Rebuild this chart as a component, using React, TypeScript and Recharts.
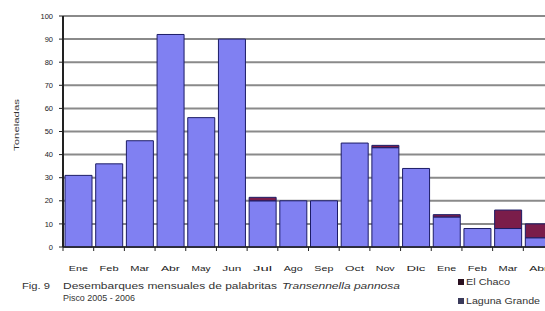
import React from "react";
import { BarChart, Bar, XAxis, YAxis, CartesianGrid } from "recharts";

const months = ["Ene", "Feb", "Mar", "Abr", "May", "Jun", "Jul", "Ago", "Sep", "Oct", "Nov", "Dic", "Ene", "Feb", "Mar", "Abr"];
const lagunaGrande = [31, 36, 46, 92, 56, 90, 20, 20, 20, 45, 43, 34, 13, 8, 8, 4];
const elChaco = [0, 0, 0, 0, 0, 0, 1.5, 0, 0, 0, 1, 0, 1, 0, 8, 6];
const yTicks = [0, 10, 20, 30, 40, 50, 60, 70, 80, 90, 100];

const data = months.map((m, i) => ({ mes: m, lg: lagunaGrande[i], ec: elChaco[i] }));

const CHART_W = 560;
const CHART_H = 311;
const MARGIN = { top: 16, right: 6, bottom: 34, left: 0 };
const YAXIS_W = 63;
const XAXIS_H = 30;
const BAND = (CHART_W - MARGIN.left - MARGIN.right - YAXIS_W) / months.length;

const LIGHT = "#8080f2";
const DARK = "#7a1d4a";
const EDGE = "#1c1c66";
const FONT = "'Liberation Sans', Arial, sans-serif";

const XTick = (props: any) => {
  const { x, y, payload } = props;
  const bx = x - BAND / 2;
  return (
    <g>
      <line x1={bx} y1={y} x2={bx} y2={y + 4} stroke="#222" strokeWidth={1} />
      <text x={x} y={y + 24} textAnchor="middle" fontSize={8} fill="#222" fontFamily={FONT} textLength={19} lengthAdjust="spacingAndGlyphs">
        {payload.value}
      </text>
    </g>
  );
};

export default function App() {
  return (
    <div style={{ position: "absolute", left: 0, top: 0, width: 545, height: 311, overflow: "hidden", background: "#fff" }}>
      <BarChart width={CHART_W} height={CHART_H} data={data} margin={MARGIN} barCategoryGap={2}>
        <CartesianGrid vertical={false} stroke="#8a8a8a" strokeWidth={2} />
        <XAxis
          dataKey="mes"
          height={XAXIS_H}
          interval={0}
          tickLine={false}
          tickSize={0}
          tickMargin={0}
          tick={<XTick />}
          stroke="#222"
          axisLine={{ stroke: "#222", strokeWidth: 1.5 }}
        />
        <YAxis
          width={YAXIS_W}
          domain={[0, 100]}
          ticks={yTicks}
          interval={0}
          tickSize={4}
          tickMargin={6}
          axisLine={{ stroke: "#222", strokeWidth: 2 }}
          tickLine={{ stroke: "#222" }}
          tick={{ fontSize: 7.5, fill: "#222", fontFamily: FONT }}
        />
        <Bar dataKey="lg" stackId="a" fill={LIGHT} stroke={EDGE} strokeWidth={1} isAnimationActive={false} />
        <Bar dataKey="ec" stackId="a" fill={DARK} stroke={EDGE} strokeWidth={1} isAnimationActive={false} />
      </BarChart>
      <svg width={545} height={311} style={{ position: "absolute", left: 0, top: 0, pointerEvents: "none" }}>
        <text x={19} y={125} transform="rotate(-90 19 125)" textAnchor="middle" fontSize={8} fill="#333" fontFamily={FONT} textLength={52} lengthAdjust="spacingAndGlyphs">
          Toneladas
        </text>
        <text x={22} y={289} fontSize={9} fill="#333" fontFamily={FONT} textLength={28} lengthAdjust="spacingAndGlyphs">Fig. 9</text>
        <text x={63} y={289} fontSize={9} fill="#333" fontFamily={FONT} textLength={214} lengthAdjust="spacingAndGlyphs">
          Desembarques mensuales de palabritas
        </text>
        <text x={282} y={289} fontSize={9} fill="#333" fontFamily={FONT} fontStyle="italic" textLength={118} lengthAdjust="spacingAndGlyphs">
          Transennella pannosa
        </text>
        <text x={63} y={301} fontSize={9} fill="#333" fontFamily={FONT} textLength={72} lengthAdjust="spacingAndGlyphs">Pisco 2005 - 2006</text>
        <rect x={458} y={279} width={6} height={6} fill="#2a1020" />
        <text x={466} y={285} fontSize={9} fill="#333" fontFamily={FONT} textLength={44} lengthAdjust="spacingAndGlyphs">El Chaco</text>
        <rect x={458} y={298} width={6} height={6} fill="#3a3a5a" />
        <text x={466} y={304} fontSize={9} fill="#333" fontFamily={FONT} textLength={74} lengthAdjust="spacingAndGlyphs">Laguna Grande</text>
      </svg>
    </div>
  );
}
